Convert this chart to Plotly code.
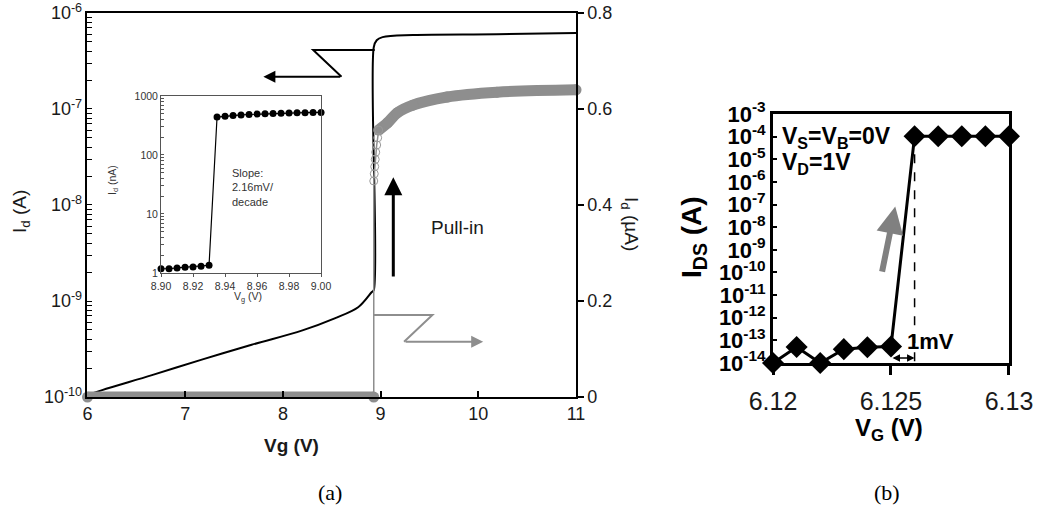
import plotly.graph_objects as go

# ---------------- (a) main sweep ----------------
# Drain current, log scale (A)
vg_log = [6.00, 6.15, 6.66, 7.17, 7.68, 8.20, 8.53, 8.77, 8.91, 8.93, 8.93, 8.96, 9.02, 9.33, 10.19, 11.00]
id_log = [1.05e-10, 1.18e-10, 1.69e-10, 2.45e-10, 3.5e-10, 4.95e-10, 6.6e-10, 8.6e-10,
          1.24e-9, 1.30e-9, 4.4e-7, 5.2e-7, 5.6e-7, 5.9e-7, 6.0e-7, 6.2e-7]

# Drain current, linear scale (uA)
gray_vg = [6.00, 8.93, 8.93, 8.935, 8.94, 8.945, 8.95, 8.96, 8.97, 8.98, 9.07, 9.17, 9.33, 9.68, 10.19, 11.00]
gray_ua = [0.0, 0.0, 0.45, 0.465, 0.48, 0.495, 0.51, 0.525, 0.54, 0.556, 0.571, 0.592, 0.608, 0.625, 0.635, 0.640]
OFF_END = 2        # off-state points
HOLLOW = (2, 10)   # transition points drawn as open circles
ON_START = 9       # on-state points

main_x_ticks = [6, 7, 8, 9, 10, 11]
main_y_decades = [-10, -9, -8, -7, -6]
right_y_ticks = [0, 0.2, 0.4, 0.6, 0.8]
right_y_text = ["0", "0.2", "0.4", "0.6", "0.8"]

# ---------------- (a) inset ----------------
in_vg = [8.900, 8.905, 8.910, 8.915, 8.920, 8.925, 8.930, 8.935, 8.940, 8.945, 8.950,
         8.955, 8.960, 8.965, 8.970, 8.975, 8.980, 8.985, 8.990, 8.995, 9.000]
in_id = [1.18, 1.18, 1.22, 1.25, 1.26, 1.30, 1.35, 440, 455, 468, 478,
         486, 493, 499, 505, 510, 514, 518, 521, 524, 527]
in_x_ticks = [8.90, 8.92, 8.94, 8.96, 8.98, 9.00]
in_y_decades = [0, 1, 2, 3]

# ---------------- (b) ----------------
vg_b = [6.120, 6.121, 6.122, 6.123, 6.124, 6.125, 6.126, 6.127, 6.128, 6.129, 6.130]
ids_b = [1.0e-14, 5.1e-14, 1.0e-14, 4.1e-14, 5.0e-14, 5.4e-14, 1.05e-4, 1.05e-4, 1.05e-4, 1.05e-4, 1.05e-4]
b_x_ticks = [6.12, 6.125, 6.13]
b_x_text = ["6.12", "6.125", "6.13"]
b_y_ticks = [10.0 ** e for e in range(-14, -2)]
b_y_text = ["10<sup>%d</sup>" % e for e in range(-14, -2)]


def log_ticks(decades, fmt):
    """Decade ticks with labels plus unlabeled 2..9 ticks in between."""
    vals, text = [], []
    for i, e in enumerate(decades):
        vals.append(10.0 ** e)
        text.append(fmt(e))
        if i < len(decades) - 1:
            for m in range(2, 10):
                vals.append(m * 10.0 ** e)
                text.append("")
    return vals, text


main_y_vals, main_y_text = log_ticks(main_y_decades, lambda e: "10<sup>%d</sup>" % e)
in_y_vals, in_y_text = log_ticks(in_y_decades, lambda e: "%d" % round(10 ** e))

SANS = "Liberation Sans"
SERIF = "Liberation Serif"
GRAY = "#8e8e8e"
INK = "#1a1a1a"
W, H = 1039, 515

fig = go.Figure()

# (a) linear-scale current: thin connecting line, thick bands, open circles
fig.add_trace(go.Scatter(x=gray_vg, y=gray_ua, mode="lines", xaxis="x", yaxis="y2",
                         line=dict(color=GRAY, width=1.5), cliponaxis=False))
fig.add_trace(go.Scatter(x=gray_vg[:OFF_END], y=gray_ua[:OFF_END], mode="lines+markers",
                         xaxis="x", yaxis="y2", line=dict(color=GRAY, width=11),
                         marker=dict(color=GRAY, size=11), cliponaxis=False))
fig.add_trace(go.Scatter(x=gray_vg[ON_START:], y=gray_ua[ON_START:], mode="lines+markers",
                         xaxis="x", yaxis="y2", line=dict(color=GRAY, width=11, shape="spline"),
                         marker=dict(color=GRAY, size=11), cliponaxis=False))
fig.add_trace(go.Scatter(x=gray_vg[HOLLOW[0]:HOLLOW[1]], y=gray_ua[HOLLOW[0]:HOLLOW[1]],
                         mode="markers", xaxis="x", yaxis="y2",
                         marker=dict(symbol="circle-open", color="#9a9a9a", size=8, line=dict(width=1)),
                         cliponaxis=False))

# (a) log-scale current
fig.add_trace(go.Scatter(x=vg_log, y=id_log, mode="lines", xaxis="x", yaxis="y",
                         line=dict(color="black", width=2, shape="spline", smoothing=1.0),
                         cliponaxis=False))

# (a) inset
fig.add_trace(go.Scatter(x=in_vg, y=in_id, mode="lines+markers", xaxis="x3", yaxis="y3",
                         line=dict(color="black", width=1.2),
                         marker=dict(color="black", size=7), cliponaxis=False))

# (b)
fig.add_trace(go.Scatter(x=[vg_b[6], vg_b[6]], y=[ids_b[6], b_y_ticks[0]], mode="lines",
                         xaxis="x4", yaxis="y4", line=dict(color="black", width=1.5, dash="dash")))
fig.add_trace(go.Scatter(x=vg_b, y=ids_b, mode="lines+markers", xaxis="x4", yaxis="y4",
                         line=dict(color="black", width=3),
                         marker=dict(symbol="diamond", color="black", size=17), cliponaxis=False))

axis_common = dict(showgrid=False, zeroline=False, showline=True, linecolor="black",
                   automargin=False)

fig.update_layout(
    width=W, height=H,
    margin=dict(l=0, r=0, t=0, b=0),
    paper_bgcolor="white", plot_bgcolor="rgba(0,0,0,0)",
    showlegend=False,
    font=dict(family=SANS, color=INK),
    xaxis=dict(axis_common, domain=[0.0842, 0.5544], range=[6, 11], anchor="y",
               linewidth=1.5, mirror=True, ticks="inside", ticklen=6, tickwidth=1.5,
               tickcolor="black", tickvals=main_x_ticks, tickfont=dict(size=18, color=INK)),
    yaxis=dict(axis_common, domain=[0.2291, 0.9748], type="log", range=[-10, -6], anchor="x",
               linewidth=1.5, ticks="inside", ticklen=5, tickwidth=1.3, tickcolor="black",
               tickvals=main_y_vals, ticktext=main_y_text, tickfont=dict(size=18, color=INK)),
    yaxis2=dict(axis_common, overlaying="y", side="right", range=[0, 0.8], anchor="x",
                linewidth=1.5, ticks="outside", ticklen=6, tickwidth=1.5, tickcolor="black",
                tickvals=right_y_ticks, ticktext=right_y_text, tickfont=dict(size=18, color=INK)),
    xaxis3=dict(axis_common, domain=[0.155, 0.309], range=[8.90, 9.00], anchor="y3",
                linewidth=1, linecolor="#555", mirror=True, ticks="outside", ticklen=3,
                tickcolor="#555", tickvals=in_x_ticks, tickformat=".2f",
                tickfont=dict(size=10.5, color="#333")),
    yaxis3=dict(axis_common, domain=[0.4699, 0.8136], type="log", range=[0, 3], anchor="x3",
                linewidth=1, linecolor="#555", mirror=True, ticks="inside", ticklen=3,
                tickcolor="#555", tickvals=in_y_vals, ticktext=in_y_text,
                tickfont=dict(size=10.5, color="#333")),
    xaxis4=dict(axis_common, domain=[0.744, 0.9711], range=[6.12, 6.13], anchor="y4",
                linewidth=3, mirror=True, ticks="outside", ticklen=9, tickwidth=3,
                tickcolor="black", tickvals=b_x_ticks, ticktext=b_x_text,
                ticklabelstandoff=5, tickfont=dict(size=25, color=INK)),
    yaxis4=dict(axis_common, domain=[0.2951, 0.7786], type="log", range=[-14, -3], anchor="x4",
                linewidth=3, mirror=True, ticks="inside", ticklen=4, tickwidth=1.5,
                tickcolor="black", tickvals=b_y_ticks, ticktext=b_y_text,
                tickfont=dict(size=22, color="black", weight="bold")),
)

# Break-line pointers to each axis
fig.add_shape(type="path", xref="x", yref="y2",
              path="M 8.94,0.723 L 8.31,0.723 L 8.60,0.667",
              line=dict(color="black", width=2))
fig.add_shape(type="path", xref="x", yref="y2",
              path="M 8.93,0.171 L 9.53,0.171 L 9.24,0.115",
              line=dict(color=GRAY, width=2))


def label(px, py, text, size, color=INK, angle=0, family=SANS, xanchor="center", align="center"):
    """Text placed by pixel position on the page."""
    return dict(x=px / W, y=1 - py / H, xref="paper", yref="paper", text=text,
                xanchor=xanchor, yanchor="middle", align=align, textangle=angle,
                showarrow=False, font=dict(size=size, color=color, family=family))


annotations = [
    # left-pointing arrow (log axis)
    dict(x=7.80, y=0.667, ax=8.60, ay=0.667, xref="x", yref="y2", axref="x", ayref="y2",
         text="", showarrow=True, arrowhead=2, arrowsize=1.2, arrowwidth=2, arrowcolor="black"),
    # right-pointing arrow (linear axis)
    dict(x=10.05, y=0.115, ax=9.24, ay=0.115, xref="x", yref="y2", axref="x", ayref="y2",
         text="", showarrow=True, arrowhead=2, arrowsize=1.2, arrowwidth=2, arrowcolor=GRAY),
    # pull-in arrow
    dict(x=9.13, y=0.458, ax=9.13, ay=0.248, xref="x", yref="y2", axref="x", ayref="y2",
         text="", showarrow=True, arrowhead=2, arrowsize=1.2, arrowwidth=3, arrowcolor="black"),
    dict(x=9.79, y=0.354, xref="x", yref="y2", xanchor="center", yanchor="middle",
         text="Pull-in", showarrow=False, font=dict(size=19, color=INK)),
    # axis titles (a)
    label(21, 212, "I<sub>d</sub> (A)", 19, angle=-90),
    label(630, 224, "I<sub>d</sub> (µA)", 19, angle=90),
    label(291, 445, "<b>Vg (V)</b>", 19),
    # inset titles and note
    label(113, 180, "I<sub>d</sub> (nA)", 10.5, color="#333", angle=-90),
    label(248, 297, "V<sub>g</sub> (V)", 10.5, color="#333"),
    label(230, 187, "Slope:<br>2.16mV/<br>decade", 11, color="#333", xanchor="left", align="left"),
    # (b) labels
    label(693, 237, "<b>I<sub>DS</sub> (A)</b>", 28, color="black", angle=-90),
    label(889, 429, "<b>V<sub>G</sub> (V)</b>", 24, color="black"),
    label(780, 138, "<b>V<sub>S</sub>=V<sub>B</sub>=0V</b>", 23, color="black", xanchor="left"),
    label(780, 163, "<b>V<sub>D</sub>=1V</b>", 23, color="black", xanchor="left"),
    dict(x=6.12667, y=-13.04, xref="x4", yref="y4", xanchor="center", yanchor="middle",
         text="<b>1mV</b>", showarrow=False, font=dict(size=22, color="black")),
    dict(x=6.126, y=-13.78, ax=6.125, ay=-13.78, xref="x4", yref="y4", axref="x4", ayref="y4",
         text="", showarrow=True, arrowhead=2, arrowside="end+start", arrowsize=1,
         arrowwidth=1.5, arrowcolor="black"),
    dict(x=6.12518, y=-7.09, ax=6.12461, ay=-10.03, xref="x4", yref="y4", axref="x4", ayref="y4",
         text="", showarrow=True, arrowhead=2, arrowsize=0.9, arrowwidth=6, arrowcolor="#808080"),
    # panel captions
    label(330, 492, "(a)", 22, color="black", family=SERIF),
    label(887, 492, "(b)", 22, color="black", family=SERIF),
]
fig.update_layout(annotations=annotations)

fig.write_html("out.html")
